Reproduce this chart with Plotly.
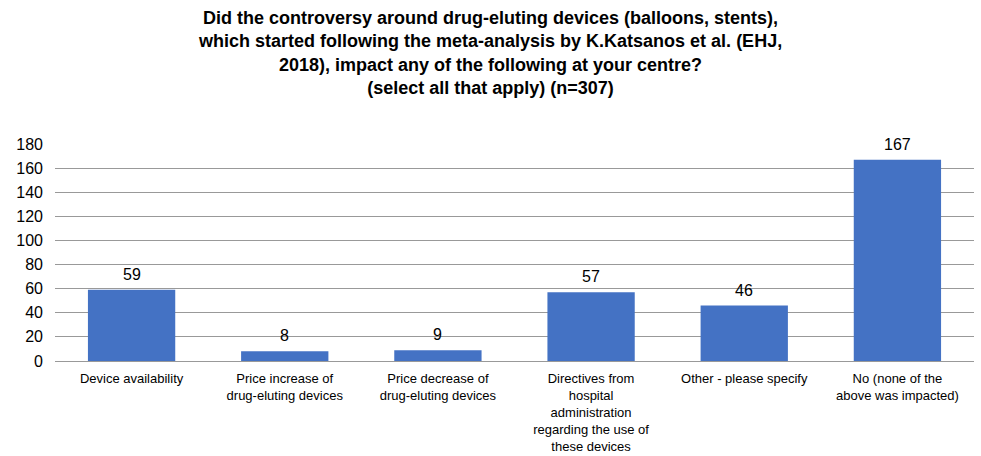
import plotly.graph_objects as go

categories = [
    "Device availability",
    "Price increase of<br>drug-eluting devices",
    "Price decrease of<br>drug-eluting devices",
    "Directives from<br>hospital<br>administration<br>regarding the use of<br>these devices",
    "Other - please specify",
    "No (none of the<br>above was impacted)",
]
values = [59, 8, 9, 57, 46, 167]
y_ticks = [0, 20, 40, 60, 80, 100, 120, 140, 160, 180]

title_text = ("Did the controversy around drug-eluting devices (balloons, stents),<br>"
              "which started following the meta-analysis by K.Katsanos et al. (EHJ,<br>"
              "2018), impact any of the following at your centre?<br>"
              "(select all that apply) (n=307)")

fig = go.Figure(go.Bar(
    x=categories, y=values,
    marker=dict(color="#4472C4", line=dict(width=0)),
    cliponaxis=False,
))

for c, v in zip(categories, values):
    fig.add_annotation(
        x=c, y=v, text=str(v), xref="x", yref="y",
        xanchor="center", yanchor="bottom", yshift=5, showarrow=False,
        font=dict(family="Liberation Sans, Arial", size=16, color="#000000"),
    )

fig.add_annotation(
    text="<b>" + title_text + "</b>", xref="paper", yref="paper",
    x=0.473, y=(456 - 95 - 6) / 217, xanchor="center", yanchor="top",
    showarrow=False, align="center",
    font=dict(family="Liberation Sans, Arial", size=18, color="#000000"),
)

fig.update_layout(
    width=981, height=456,
    margin=dict(l=55, r=7, t=144, b=95),
    paper_bgcolor="white", plot_bgcolor="white",
    bargap=0.43,
    showlegend=False,
    font=dict(family="Liberation Sans, Arial", color="#000000"),
)
fig.update_yaxes(range=[0, 180], tickvals=y_ticks, showgrid=True,
                 gridcolor="#999999", gridwidth=1, zeroline=True,
                 zerolinecolor="#999999", zerolinewidth=1,
                 tickfont=dict(size=16), ticks="", ticklen=0,
                 ticklabelstandoff=11, automargin=False)
fig.update_xaxes(tickfont=dict(size=13), ticks="", showline=False,
                 tickangle=0, ticklabelstandoff=8, automargin=False)

fig.write_html("out.html")
